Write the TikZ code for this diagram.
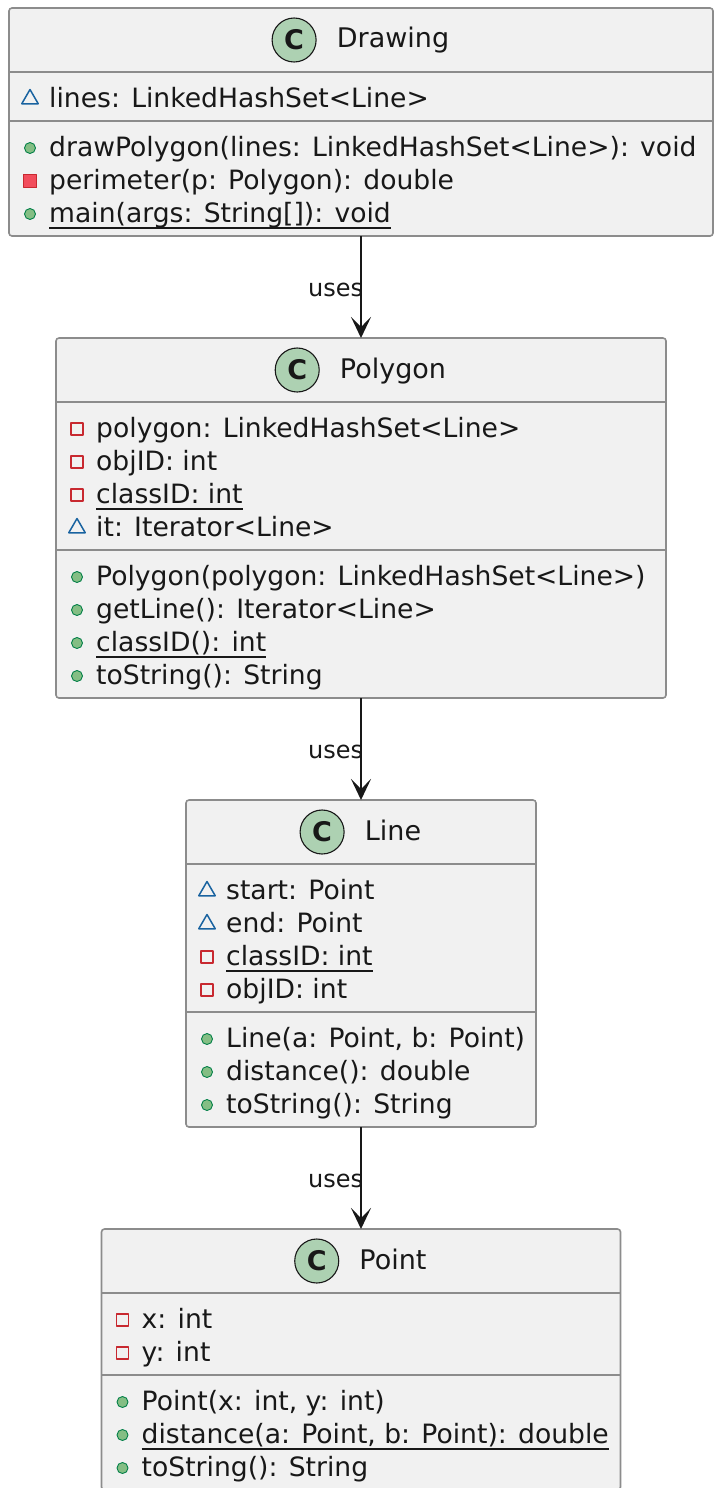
\documentclass[tikz,border=0pt]{standalone}
\usepackage{fontspec}
\setmainfont{DejaVu Sans}
\usetikzlibrary{arrows.meta,calc,positioning,shapes.geometric}
\definecolor{umlink}{HTML}{181818}
\definecolor{umlfill}{HTML}{F1F1F1}
\definecolor{umlline}{HTML}{8C8C8C}
\definecolor{umlspot}{HTML}{ADD1B2}
\definecolor{umlpub}{HTML}{84BE84}
\definecolor{umlpubline}{HTML}{038048}
\definecolor{umlpriv}{HTML}{C82930}
\definecolor{umlprivfill}{HTML}{F24D5C}
\definecolor{umlpkg}{HTML}{1963A0}
\newcommand{\umlstatic}[1]{\setbox0\hbox{#1}\rlap{\copy0}\rule[-6.5pt]{\wd0}{1.8pt}}

\begin{document}
\begin{tikzpicture}[x=1pt,y=1pt,line join=round,
  font=\fontsize{26.6}{32}\selectfont,text=umlink,
  classbox/.style={draw=umlline,fill=umlfill,line width=1.6pt,rounded corners=3pt,inner sep=0pt,outer sep=0pt},
  sepline/.style={draw=umlline,line width=1.6pt},
  spot/.style={circle,minimum size=44pt,inner sep=0pt,fill=umlspot,draw=umlink,line width=1.1pt,font=\fontsize{27}{32}\bfseries},
  classname/.style={anchor=base,inner sep=0pt,font=\fontsize{27}{32}\selectfont},
  member/.style={anchor=base west,inner sep=0pt},
  pubicon/.style={circle,minimum size=11pt,inner sep=0pt,fill=umlpub,draw=umlpubline,line width=.9pt},
  privicon/.style={rectangle,minimum size=12pt,inner sep=0pt,draw=umlpriv,line width=1.5pt},
  privopicon/.style={rectangle,minimum size=13pt,inner sep=0pt,fill=umlprivfill,draw=umlpriv,line width=.9pt},
  pkgicon/.style={regular polygon,regular polygon sides=3,minimum size=19pt,inner sep=0pt,draw=umlpkg,line width=1.5pt},
  uses/.style={draw=umlink,line width=1.7pt,-{Stealth[length=21pt,width=20pt,inset=10pt]}},
  useslabel/.style={midway,anchor=east,inner sep=0pt,xshift=3pt,yshift=-3pt,font=\fontsize{24}{29}\selectfont}]
\path[use as bounding box] (0,0) rectangle (726,-1488);
\fill[white] (0,0) rectangle (726,-1488);

% the four classes, one under the other
\node[classbox,minimum width=704pt,minimum height=228pt,anchor=north] (drawing) at (361,-8) {};
\node[classbox,minimum width=610pt,minimum height=360pt,below=102pt of drawing] (polygon) {};
\node[classbox,minimum width=350pt,minimum height=327pt,below=102pt of polygon] (line) {};
\node[classbox,minimum width=519pt,minimum height=261pt,below=102pt of line] (point) {};

% Drawing
\begin{scope}[shift={(drawing.north west)}]
  \draw[sepline] (0,-64) -- (704,-64);
  \draw[sepline] (0,-113) -- (704,-113);
  \node[classname] (drawingname) at (384,-40) {Drawing};
  \node[spot,left=20pt of drawingname.base west,yshift=8pt] (drawingspot) {C};
  \node[pkgicon] (drawinga1i) at (21,-91) {};
  \node[member] (drawinga1) at (40,-99) {lines: LinkedHashSet<Line>};
  \node[pubicon] (drawingm1i) at (21,-140) {};
  \node[member] (drawingm1) at (40,-148) {drawPolygon(lines: LinkedHashSet<Line>): void};
  \node[privopicon] (drawingm2i) at (21,-173) {};
  \node[member] (drawingm2) at (40,-181) {perimeter(p: Polygon): double};
  \node[pubicon] (drawingm3i) at (21,-206) {};
  \node[member] (drawingm3) at (40,-214) {\umlstatic{main(args: String[]): void}};
\end{scope}

% Polygon
\begin{scope}[shift={(polygon.north west)}]
  \draw[sepline] (0,-64) -- (610,-64);
  \draw[sepline] (0,-212) -- (610,-212);
  \node[classname] (polygonname) at (337,-40) {Polygon};
  \node[spot,left=20pt of polygonname.base west,yshift=8pt] (polygonspot) {C};
  \node[privicon] (polygona1i) at (21,-91) {};
  \node[member] (polygona1) at (40,-99) {polygon: LinkedHashSet<Line>};
  \node[privicon] (polygona2i) at (21,-124) {};
  \node[member] (polygona2) at (40,-132) {objID: int};
  \node[privicon] (polygona3i) at (21,-157) {};
  \node[member] (polygona3) at (40,-165) {\umlstatic{classID: int}};
  \node[pkgicon] (polygona4i) at (21,-190) {};
  \node[member] (polygona4) at (40,-198) {it: Iterator<Line>};
  \node[pubicon] (polygonm1i) at (21,-239) {};
  \node[member] (polygonm1) at (40,-247) {Polygon(polygon: LinkedHashSet<Line>)};
  \node[pubicon] (polygonm2i) at (21,-272) {};
  \node[member] (polygonm2) at (40,-280) {getLine(): Iterator<Line>};
  \node[pubicon] (polygonm3i) at (21,-305) {};
  \node[member] (polygonm3) at (40,-313) {\umlstatic{classID(): int}};
  \node[pubicon] (polygonm4i) at (21,-338) {};
  \node[member] (polygonm4) at (40,-346) {toString(): String};
\end{scope}

% Line
\begin{scope}[shift={(line.north west)}]
  \draw[sepline] (0,-64) -- (350,-64);
  \draw[sepline] (0,-212) -- (350,-212);
  \node[classname] (linename) at (207,-40) {Line};
  \node[spot,left=20pt of linename.base west,yshift=8pt] (linespot) {C};
  \node[pkgicon] (linea1i) at (21,-91) {};
  \node[member] (linea1) at (40,-99) {start: Point};
  \node[pkgicon] (linea2i) at (21,-124) {};
  \node[member] (linea2) at (40,-132) {end: Point};
  \node[privicon] (linea3i) at (21,-157) {};
  \node[member] (linea3) at (40,-165) {\umlstatic{classID: int}};
  \node[privicon] (linea4i) at (21,-190) {};
  \node[member] (linea4) at (40,-198) {objID: int};
  \node[pubicon] (linem1i) at (21,-239) {};
  \node[member] (linem1) at (40,-247) {Line(a: Point, b: Point)};
  \node[pubicon] (linem2i) at (21,-272) {};
  \node[member] (linem2) at (40,-280) {distance(): double};
  \node[pubicon] (linem3i) at (21,-305) {};
  \node[member] (linem3) at (40,-313) {toString(): String};
\end{scope}

% Point
\begin{scope}[shift={(point.north west)}]
  \draw[sepline] (0,-64) -- (519,-64);
  \draw[sepline] (0,-146) -- (519,-146);
  \node[classname] (pointname) at (291.5,-40) {Point};
  \node[spot,left=20pt of pointname.base west,yshift=8pt] (pointspot) {C};
  \node[privicon] (pointa1i) at (21,-91) {};
  \node[member] (pointa1) at (40,-99) {x: int};
  \node[privicon] (pointa2i) at (21,-124) {};
  \node[member] (pointa2) at (40,-132) {y: int};
  \node[pubicon] (pointm1i) at (21,-173) {};
  \node[member] (pointm1) at (40,-181) {Point(x: int, y: int)};
  \node[pubicon] (pointm2i) at (21,-206) {};
  \node[member] (pointm2) at (40,-214) {\umlstatic{distance(a: Point, b: Point): double}};
  \node[pubicon] (pointm3i) at (21,-239) {};
  \node[member] (pointm3) at (40,-247) {toString(): String};
\end{scope}

% dependencies
\draw[uses] (drawing.south) -- (polygon.north) node[useslabel] (uses1) {uses};
\draw[uses] (polygon.south) -- (line.north) node[useslabel] (uses2) {uses};
\draw[uses] (line.south) -- (point.north) node[useslabel] (uses3) {uses};
\end{tikzpicture}
\end{document}
